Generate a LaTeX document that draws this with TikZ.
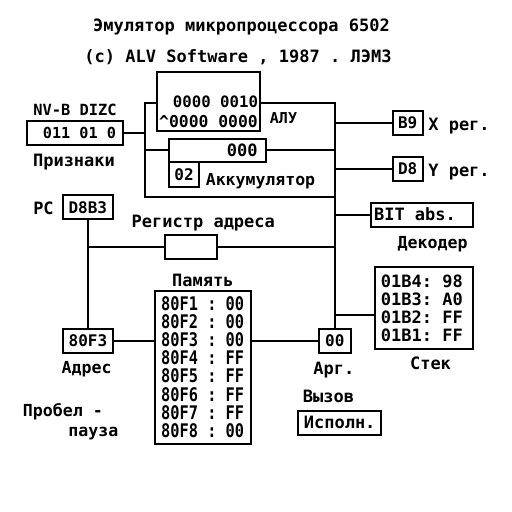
\documentclass[tikz,border=0pt]{standalone}
\usepackage{fontspec}
\setmonofont{DejaVu Sans Mono}
\newcommand\fsz[1]{\fontsize{#1}{#1}\selectfont\ttfamily\bfseries}
\begin{document}
\begin{tikzpicture}[x=1pt,y=-1pt, line width=2.2pt,
  t/.style={inner sep=0pt, text height=12pt, text depth=0pt, font=\fsz{#1}}, t/.default=17,
  bx/.style={draw, inner sep=0pt}]
\useasboundingbox[fill=white] (0,0) rectangle (512,512);
% titles
\node[t] (title) at (241.5,25) {Эмулятор микропроцессора 6502};
\node[t] (sub) at (238,56.5) {(c) ALV Software , 1987 . ЛЭМЗ};
% flags
\node[t=15.4] (flagn) at (75,109.3) {NV-B DIZC};
\node[bx, minimum width=96.3pt, minimum height=24.3pt] (flags) at (74.85,132.85) {};
\node[t=15.2] (flagv) at (79.5,132.7) {011 01 0};
\node[t] (prz) at (74,160) {Признаки};
% ALU
\node[bx, minimum width=103pt, minimum height=59pt] (alu) at (208.5,101.5) {};
\node[t=15.7] (alu1) at (215.5,101.7) {0000 0010};
\node[t=16.4] (alu2) at (208.5,121) {\textasciicircum0000 0000};
\node[t=15] (alul) at (283.5,117) {АЛУ};
% accumulator
\node[bx, minimum width=97pt, minimum height=22.7pt] (acc) at (217.5,150.35) {};
\node[t] (accv) at (242.3,150.3) {000};
\node[bx, t=16, minimum width=30pt, minimum height=25.3pt] (acc02) at (184,174.35) {02};
\node[t=16.5] (accl) at (260.5,179) {Аккумулятор};
% X, Y registers
\node[bx, t=16, minimum width=30pt, minimum height=24.3pt] (xr) at (407.7,122.85) {B9};
\node[t] (xl) at (459,124) {X рег.};
\node[bx, t=16, minimum width=30pt, minimum height=24.3pt] (yr) at (407.7,168.85) {D8};
\node[t] (yl) at (459,170.7) {Y рег.};
% decoder
\node[bx, minimum width=101.7pt, minimum height=23.7pt] (dec) at (421.85,214.85) {};
\node[t] (decv) at (415,214) {BIT abs.};
\node[t=16.6] (decl) at (432.7,242.7) {Декодер};
% PC and address register
\node[t] (pcl) at (43.5,208) {PC};
\node[bx, t=16, minimum width=50.3pt, minimum height=24pt] (pc) at (87.85,207) {D8B3};
\node[t] (regl) at (203.3,221.7) {Регистр адреса};
\node[bx, minimum width=51.7pt, minimum height=24pt] (reg) at (190.85,247) {};
% memory
\node[t] (meml) at (202.8,280) {Память};
\node[bx, minimum width=95.7pt, minimum height=153.3pt] (mem) at (202.85,367.35) {};
\foreach \a/\v [count=\i from 0] in {80F1/00,80F2/00,80F3/00,80F4/FF,80F5/FF,80F6/FF,80F7/FF,80F8/00}
  \node[t=15] (m\i) at (202.7,{304+\i*18.24}) {\scalebox{1.02}[1.25]{\a{} : \v}};
\node[bx, t=16, minimum width=50.6pt, minimum height=23.7pt] (addr) at (88,340.85) {80F3};
\node[t=16.6] (addrl) at (86.7,367.3) {Адрес};
\node[t=16.6, anchor=west] (sp1) at (21.7,410.7) {Пробел -};
\node[t=16.6] (sp2) at (93.3,430) {пауза};
% argument
\node[bx, t=16, minimum width=32.3pt, minimum height=23.7pt] (arg) at (334.85,340.85) {00};
\node[t] (argl) at (333.8,368.3) {Арг.};
% stack
\node[bx, minimum width=98.3pt, minimum height=82.3pt] (stk) at (424.15,307.85) {};
\foreach \a/\v [count=\i from 0] in {01B4/98,01B3/A0,01B2/FF,01B1/FF}
  \node[t] (s\i) at (421.8,{281.7+\i*17.77}) {\a: \v};
\node[t] (stkl) at (430.5,363.3) {Стек};
% call
\node[t] (callt) at (328.5,396.7) {Вызов};
\node[bx, t, minimum width=82.7pt, minimum height=24.3pt] (exec) at (339.65,422.85) {Исполн.};
% bus
\coordinate (lt) at (145,103);
\coordinate (lb) at (145,197);
\coordinate (rt) at (335,103);
\coordinate (rb) at (335,197);
\coordinate (sj) at (335,315);
\draw (flags.east) -- (flags.east -| lt);
\draw (alu.west |- lt) -- (lt) -- (lb) -- (rb);
\draw (alu.east |- rt) -- (rt) -- (rt |- arg.north);
\draw (acc.west) -- (acc.west -| lt);
\draw (acc.east) -- (acc.east -| rt);
\draw (rt |- xr.west) -- (xr.west);
\draw (rt |- yr.west) -- (yr.west);
\draw (rt |- dec.west) -- (dec.west);
\draw (sj) -- (sj -| stk.west);
\draw (pc.south) -- (pc.south |- addr.north);
\draw (reg.west) -- (reg.west -| pc.south);
\draw (reg.east) -- (reg.east -| rt);
\draw (addr.east) -- (mem.west |- addr.east);
\draw (mem.east |- arg.west) -- (arg.west);
\end{tikzpicture}
\end{document}
